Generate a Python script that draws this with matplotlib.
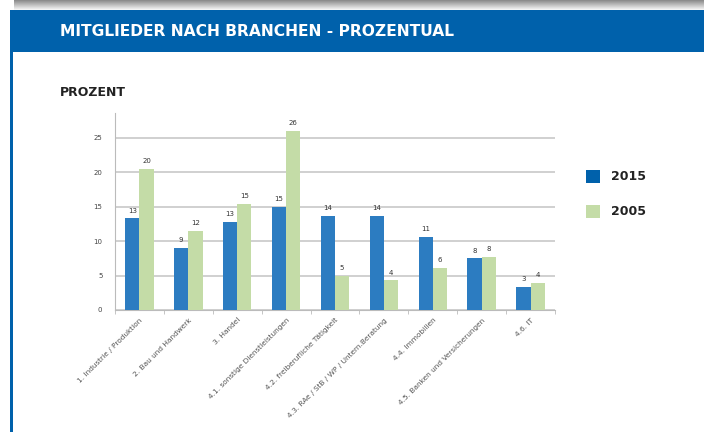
import matplotlib.pyplot as plt
import numpy as np
from matplotlib.patches import Rectangle

# Daten
branchen = [
    "1. Industrie / Produktion",
    "2. Bau und Handwerk",
    "3. Handel",
    "4.1. sonstige Dienstleistungen",
    "4.2. freiberufliche Tätigkeit",
    "4.3. RAe / StB / WP / Untern.Beratung",
    "4.4. Immobilien",
    "4.5. Banken und Versicherungen",
    "4.6. IT",
]
werte_2015 = [13.3, 9.0, 12.8, 15.0, 13.6, 13.6, 10.6, 7.5, 3.4]
werte_2005 = [20.5, 11.5, 15.4, 26.0, 5.0, 4.3, 6.1, 7.7, 3.9]
y_ticks = [0, 5, 10, 15, 20, 25]

blau = '#2c7cc1'
gruen = '#c4dca7'
header_blau = '#0061ab'

fig = plt.figure(figsize=(7.04, 4.32), dpi=100)
W, H = 704, 432

def px(x0, y0, x1, y1, **kw):
    # Rechteck in Pixelkoordinaten (y von oben)
    fig.patches.append(Rectangle((x0 / W, 1 - y1 / H), (x1 - x0) / W, (y1 - y0) / H,
                                 transform=fig.transFigure, lw=0, **kw))

# Schatten oben
for i in range(10):
    g = 0.55 + 0.45 * i / 10
    px(14, i, W, i + 1, color=(g, g, g))
# Kopfzeile und linker Rand
px(10, 10, W, 52, color=header_blau)
px(10, 52, 13, H, color=header_blau)

fig.text(60 / W, 1 - 32 / H, 'MITGLIEDER NACH BRANCHEN - PROZENTUAL', color='white',
         fontsize=11.2, fontweight='bold', family='DejaVu Sans', va='center', ha='left')
fig.text(60 / W, 1 - 92 / H, 'PROZENT', color='#222222', fontsize=9,
         fontweight='bold', family='DejaVu Sans', va='center', ha='left')

ax = fig.add_axes([115 / W, 1 - 310 / H, 440 / W, 197 / H])
x = np.arange(len(branchen))
breite = 0.29
b1 = ax.bar(x - breite / 2, werte_2015, breite, color=blau, zorder=3)
b2 = ax.bar(x + breite / 2, werte_2005, breite, color=gruen, zorder=3)

for balken in list(b1) + list(b2):
    h = balken.get_height()
    ax.text(balken.get_x() + balken.get_width() / 2, h + 0.7, f'{h:.0f}',
            ha='center', va='bottom', fontsize=5, color='#333333')

ax.set_xlim(-0.5, len(branchen) - 0.5)
ax.set_ylim(0, 28.6)
ax.set_yticks(y_ticks)
ax.set_yticklabels([str(t) for t in y_ticks], fontsize=5, color='#444444')
ax.yaxis.grid(True, color='#c8c8c8', lw=1.2, zorder=0)
ax.set_xticks(x)
ax.set_xticklabels(branchen, rotation=45, ha='right', rotation_mode='anchor',
                   fontsize=5.3, color='#555555')
ax.set_xticks(np.arange(len(branchen) + 1) - 0.5, minor=True)
ax.tick_params(axis='x', which='major', length=0, pad=5)
ax.tick_params(axis='x', which='minor', length=3, color='#bbbbbb')
ax.tick_params(axis='y', length=0, pad=9)
for s in ['top', 'right']:
    ax.spines[s].set_visible(False)
ax.spines['left'].set_color('#bbbbbb')
ax.spines['bottom'].set_color('#bbbbbb')

# Legende
px(586, 170, 600, 183, color=header_blau)
px(586, 205, 600, 218, color=gruen)
fig.text(611 / W, 1 - 177 / H, '2015', fontsize=9, fontweight='bold',
         family='DejaVu Sans', color='#222222', va='center')
fig.text(611 / W, 1 - 212 / H, '2005', fontsize=9, fontweight='bold',
         family='DejaVu Sans', color='#222222', va='center')

fig.savefig('out.png', dpi=100)
